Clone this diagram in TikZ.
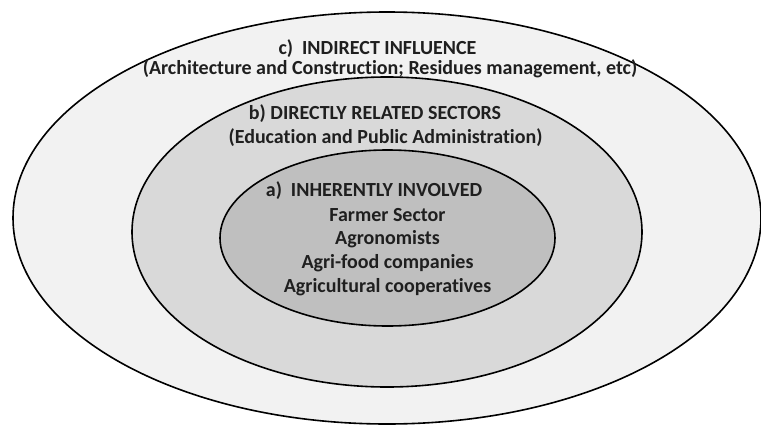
\documentclass[tikz,border=0pt]{standalone}
\usepackage{fontspec}
\setmainfont{Carlito}[Ligatures=NoCommon]
\begin{document}
\begin{tikzpicture}[x=1pt,y=-1pt,
  ring/.style={draw=black,line width=1.6pt},
  lbl/.style={anchor=base,inner sep=0pt,font=\bfseries\fontsize{20}{24}\selectfont,text=black!88}]
\useasboundingbox[fill=white] (0,0) rectangle (761,426);
% nested stakeholder rings
\path[ring,fill=black!5]  (387,218)   ellipse [x radius=374, y radius=206];
\path[ring,fill=black!15] (387,232)   ellipse [x radius=255, y radius=155];
\path[ring,fill=black!25] (387.5,238) ellipse [x radius=167.5, y radius=88];
% outer ring
\node[lbl] (cT) at (377.5,54) {c)\hspace{0.45em}INDIRECT INFLUENCE};
\node[lbl] (cS) at (390,74) {(Architecture and Construction; Residues management, etc)};
% middle ring
\node[lbl] (bT) at (375,119) {b) DIRECTLY RELATED SECTORS};
\node[lbl] (bS) at (385.5,143) {(Education and Public Administration)};
% inner ring
\node[lbl] (aT) at (374,196) {a)\hspace{0.45em}INHERENTLY INVOLVED};
\node[lbl] (a1) at (387.5,221) {Farmer Sector};
\node[lbl] (a2) at (387.5,244) {Agronomists};
\node[lbl] (a3) at (387.5,268) {Agri-food companies};
\node[lbl] (a4) at (387.5,292) {Agricultural cooperatives};
\end{tikzpicture}
\end{document}
